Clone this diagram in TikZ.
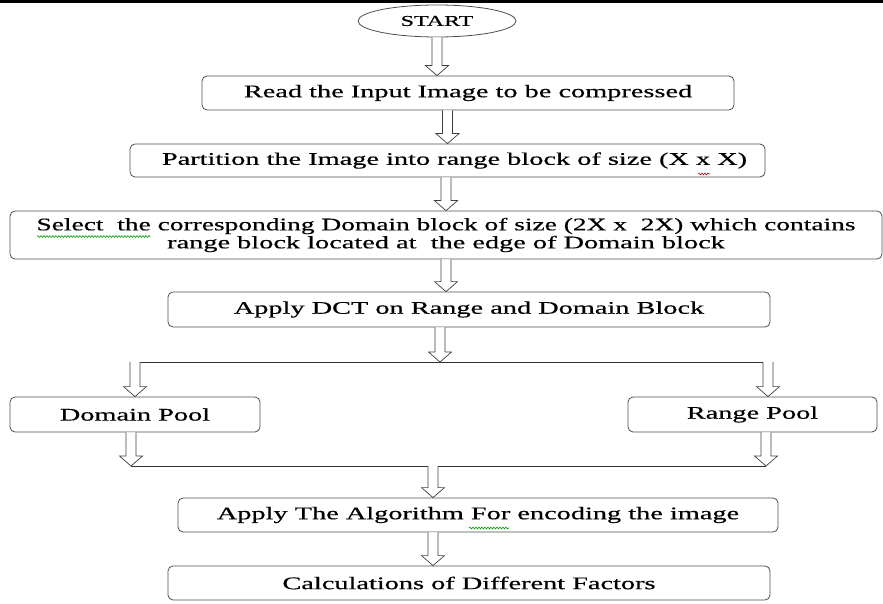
\documentclass[tikz,border=0pt]{standalone}
\usepackage{fontspec}
\setmainfont{Liberation Serif}
\usetikzlibrary{calc,shapes.geometric,decorations.pathmorphing}
\newcommand{\wide}[1]{\scalebox{1.6}[1]{#1}}
\newcommand{\darrow}[2]{\draw[hollow] let \p1=(#1),\p2=(#2) in
  (\x1-5pt,\y1)--(\x1-5pt,\y2+10pt)--(\x1-11.5pt,\y2+10pt)--(\x1,\y2)
  --(\x1+11.5pt,\y2+10pt)--(\x1+5pt,\y2+10pt)--(\x1+5pt,\y1);}
\tikzset{
  blk/.style={draw=black!70,line width=0.8pt,rounded corners=5pt,inner sep=0pt,
    font=\fontsize{17.7}{18}\selectfont\addfontfeatures{FakeBold=0.4},align=center},
  hollow/.style={draw=black!75,line width=0.7pt,fill=white},
  forkline/.style={draw=black!80,line width=0.8pt},
  squiggle/.style={decorate,decoration={snake,amplitude=0.9pt,segment length=3pt},line width=0.6pt}
}
\begin{document}
\begin{tikzpicture}[x=1pt,y=-1pt]
  \useasboundingbox (0,0) rectangle (883,604);
  \fill (0,0) rectangle (883,3);
  \node[draw=black!70,line width=0.8pt,ellipse,minimum width=158pt,minimum height=32pt,inner sep=0pt,
    font=\fontsize{15}{16}\selectfont\addfontfeatures{FakeBold=0.4}] (start) at (437,21) {\wide{START}};
  \node[blk,minimum width=532pt,minimum height=34pt] (read) at (468,93)
    {\wide{Read the Input Image to be compressed}};
  \node[blk,minimum width=635pt,minimum height=33pt] (part) at (447.5,160.5)
    {\hspace*{14pt}\wide{Partition the Image into range block of size (X x X)}};
  \node[blk,minimum width=872pt,minimum height=48pt] (sel) at (446,235)
    {\scalebox{1.55}[1]{Select~ the corresponding Domain block of size (2X x~ 2X) which contains}\\
     \wide{range block located at~ the edge of Domain block}};
  \node[blk,minimum width=602pt,minimum height=35pt] (dct) at (469,309.5)
    {\wide{Apply DCT on Range and Domain Block}};
  \node[blk,minimum width=250pt,minimum height=35pt] (dom) at (135,414.5)
    {\wide{Domain Pool}};
  \node[blk,minimum width=249pt,minimum height=35pt] (rng) at (752.5,414.5)
    {\wide{Range Pool}};
  \node[blk,minimum width=600pt,minimum height=34pt] (alg) at (478,515)
    {\wide{Apply The Algorithm For encoding the image}};
  \node[blk,minimum width=602pt,minimum height=34pt] (fac) at (469,583)
    {\wide{Calculations of Different Factors}};
  \draw[squiggle,green!60!black] (37,236.5) -- (150,236.5);
  \draw[squiggle,red!80!black] (698,174) -- (710,174);
  \draw[squiggle,green!60!black] (469,528) -- (509,528);
  \coordinate (f1) at (440,362);
  \coordinate (f1l) at (135,362);
  \coordinate (f1r) at (768,362);
  \coordinate (f2) at (433,466);
  \coordinate (f2l) at (131,466);
  \coordinate (f2r) at (766,466);
  \draw[forkline] (f1l) -- (f1r);
  \draw[forkline] (f2l) -- (f2r);
  \darrow{start.south}{start.south |- read.north}
  \darrow{part.north |- read.south}{part.north}
  \darrow{sel.north |- part.south}{sel.north}
  \darrow{sel.south}{sel.south |- dct.north}
  \darrow{f1 |- dct.south}{f1}
  \darrow{f1l}{f1l |- dom.north}
  \darrow{f1r}{f1r |- rng.north}
  \darrow{f2l |- dom.south}{f2l}
  \darrow{f2r |- rng.south}{f2r}
  \darrow{f2}{f2 |- alg.north}
  \darrow{f2 |- alg.south}{f2 |- fac.north}
\end{tikzpicture}
\end{document}
